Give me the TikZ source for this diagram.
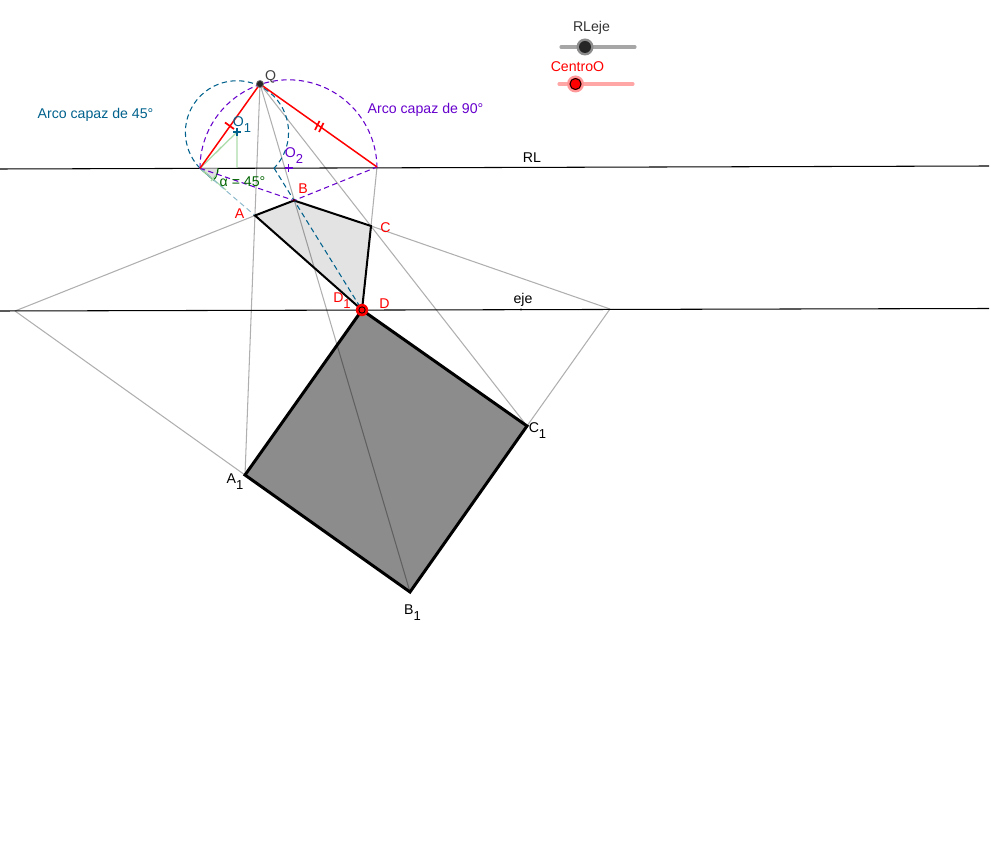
\documentclass[tikz,border=0pt]{standalone}
\usepackage{fontspec}
\setmainfont{Liberation Sans}
\usetikzlibrary{calc}
\definecolor{blueA}{RGB}{0,97,140}
\definecolor{purp}{RGB}{102,0,204}
\definecolor{dgreen}{RGB}{0,100,0}
\definecolor{lgreen}{RGB}{170,220,170}
\definecolor{grayL}{RGB}{175,175,175}
\newcommand{\subn}[1]{\raisebox{-3.4pt}{\fontsize{7.4pt}{8pt}\selectfont #1}}
\tikzset{
 x=0.02cm,y=-0.02cm,
 lbl/.style={inner sep=0pt,yshift=-0.015cm,font=\fontsize{8.05pt}{10pt}\selectfont},
 red lbl/.style={lbl,text=red},
 gray line/.style={draw=grayL,line width=0.6pt},
 axis line/.style={draw=black,line width=0.6pt},
 red seg/.style={draw=red,line width=0.85pt},
 tick seg/.style={draw=red,line width=1pt},
 blue dash/.style={draw=blueA,line width=0.6pt,dash pattern=on 3pt off 2pt},
 light dash/.style={draw=blueA!45,line width=0.55pt,dash pattern=on 3pt off 2pt},
 purple dash/.style={draw=purp,line width=0.6pt,dash pattern=on 3pt off 2pt},
 light green/.style={draw=lgreen,line width=0.7pt},
 quad/.style={draw=black,line width=1.15pt,fill=black,fill opacity=0.11},
 quad big/.style={draw=black,line width=1.7pt,fill=black,fill opacity=0.45},
}
\begin{document}
\begin{tikzpicture}
\useasboundingbox (0,0) rectangle (991,844);
\coordinate (Q) at (260,84);
\coordinate (L) at (200,168.3);
\coordinate (R) at (377,167);
\coordinate (A) at (255,215.5);
\coordinate (B) at (294,200.5);
\coordinate (C) at (371,226);
\coordinate (D) at (362,310);
\coordinate (A1) at (245,475);
\coordinate (B1) at (410,592);
\coordinate (C1) at (527,426);
\coordinate (E) at (15,311);
\coordinate (F) at (610,309);
\coordinate (O1) at (237,132);
\coordinate (O2) at (288.5,168);
\coordinate (H) at (237,168);
\coordinate (T) at (274,168);
\coordinate (G) at (226,190);
\coordinate (RLa) at (0,169);
\coordinate (RLb) at (989,166);
\coordinate (EJa) at (0,311);
\coordinate (EJb) at (989,308.5);
% gray projection lines
\draw[gray line] (Q) -- (A1);
\draw[gray line] (Q) -- (B1);
\draw[gray line] (Q) -- (C1);
\draw[gray line] (R) -- (C);
\draw[gray line] (E) -- (A);
\draw[gray line] (E) -- (A1);
\draw[gray line] (F) -- (C);
\draw[gray line] (F) -- (C1);
% quadrilaterals
\draw[quad big] (D) -- (C1) -- (B1) -- (A1) -- cycle;
\draw[quad] (A) -- (B) -- (C) -- (D) -- cycle;
% axes
\draw[axis line] (RLa) -- (RLb);
\draw[axis line] (EJa) -- (EJb);
% angle
\fill[black!12] (L) -- ++(0.36cm,0cm) arc[start angle=0,end angle=-41,radius=0.36cm] -- cycle;
\draw[dgreen,line width=0.7pt] (L) ++(0.36cm,0cm) arc[start angle=0,end angle=-41,radius=0.36cm] -- (L);
% construction
\draw[light green] (L) -- (O1) -- (H);
\draw[light green] (L) -- (G);
\draw[light green] (216,153) -- (221,147);
\draw[light green] (211,181) -- (216,175);
\draw[light dash] (L) -- (A);
\draw[blue dash] (T) -- (D);
\draw[blue dash] (L) arc[start angle=224.2,end angle=-44.2,radius=1.032cm];
\draw[purple dash] (L) arc[start angle=180,end angle=0,radius=1.77cm];
\draw[purple dash] (L) -- (B) -- (R);
% red
\draw[red seg] (L) -- (Q) -- (R);
\draw[tick seg] (225,122.5) -- (234,129);
\draw[tick seg] (315,130) -- (319.5,121);
\draw[tick seg] (319,132) -- (323.5,123);
% crosses
\draw[blueA,line width=0.8pt] (233,132) -- (241,132) (237,128) -- (237,136);
\draw[purp,line width=0.8pt] (284.5,168) -- (292.5,168) (288.5,164) -- (288.5,172);
% points
\fill[black] (A) circle (1.2);
\fill[black] (C) circle (1.2);
\fill[black!70!red] (B) circle (1.5);
\coordinate (EJP) at (521,309.5);
\fill[black] (EJP) circle (1.2);
\fill[black!55] (Q) circle (4);
\fill[black!85] (Q) circle (3);
\fill[red] (D) circle (6.2);
\fill[black] (D) circle (3.6);
\fill[red] (D) circle (2.6);
% sliders
\coordinate (S1a) at (561,47); \coordinate (S1b) at (635,47); \coordinate (S1k) at (585,47);
\coordinate (S2a) at (559,84); \coordinate (S2b) at (633,84); \coordinate (S2k) at (575.5,84);
\draw[draw=black!35,line width=1.8pt,line cap=round] (S1a) -- (S1b);
\fill[black!45] (S1k) circle (8.5);
\fill[black!85] (S1k) circle (6);
\draw[draw=red!35,line width=1.8pt,line cap=round] (S2a) -- (S2b);
\fill[red!40] (S2k) circle (8.5);
\fill[red] (S2k) circle (6);
\draw[black,line width=0.5pt] (S2k) circle (5.5);
% labels
\node[lbl,text=black!80] (tRL) at (591.5,27.5) {RLeje};
\node[red lbl] (tCO) at (577.5,65.5) {CentroO};
\node[lbl,text=black!75] (tQ) at (270.5,76) {Q};
\node[lbl,text=blueA] (tA45) at (95.5,114.5) {Arco capaz de 45°};
\node[lbl,text=purp] (tA90) at (425.5,109.5) {Arco capaz de 90°};
\node[lbl,text=blueA] (tO1) at (242,124) {O\subn{1}};
\node[lbl,text=purp] (tO2) at (294,155) {O\subn{2}};
\node[lbl] (tRLl) at (532,157) {RL};
\node[lbl,text=dgreen] (talpha) at (242.5,180.5) {α = 45°};
\node[red lbl] (tA) at (239.5,213) {A};
\node[red lbl] (tB) at (303,188) {B};
\node[red lbl] (tC) at (385.5,226.5) {C};
\node[red lbl] (tD) at (384.5,302.5) {D};
\node[red lbl] (tD1) at (342,300) {D\subn{1}};
\node[lbl] (teje) at (523,299) {eje};
\node[lbl] (tA1) at (235,481) {A\subn{1}};
\node[lbl] (tB1) at (412.5,612) {B\subn{1}};
\node[lbl] (tC1) at (537.5,430) {C\subn{1}};
\end{tikzpicture}
\end{document}
